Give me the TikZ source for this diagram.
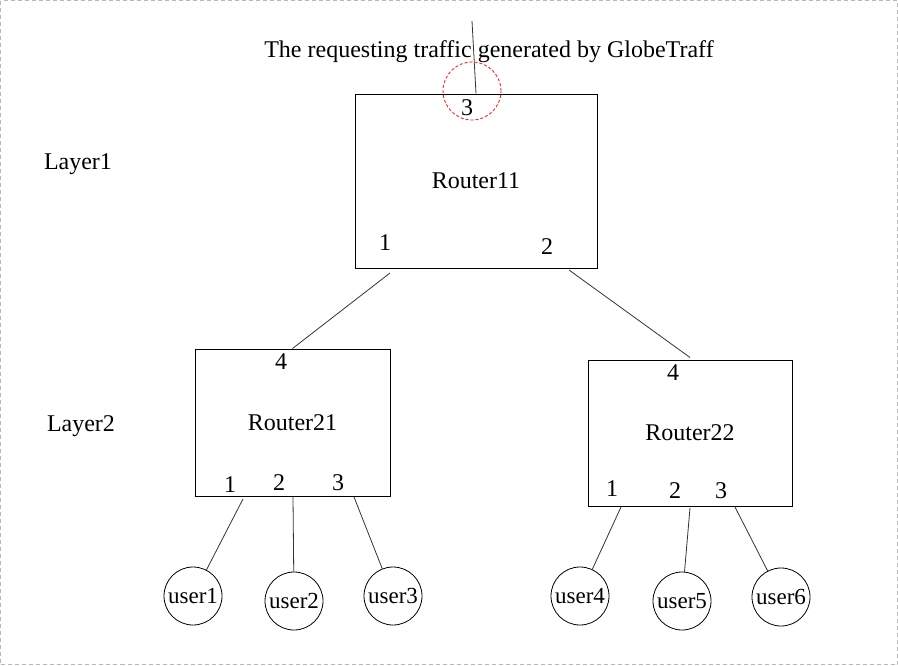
\documentclass[tikz,border=0pt]{standalone}
\usepackage{fontspec}
\setmainfont{Liberation Serif}

\begin{document}
\begin{tikzpicture}[x=1pt,y=-1pt,font=\fontsize{24}{28}\selectfont,
  router/.style={draw,line width=1pt,inner sep=0pt},
  user/.style={draw,circle,line width=0.8pt,minimum size=58pt,inner sep=0pt,font=\fontsize{23}{26}\selectfont},
  link/.style={line width=0.8pt,black!80},
  portmark/.style={draw=red!85,dashed,dash pattern=on 3pt off 2pt,circle,line width=0.9pt,minimum size=58pt,inner sep=0pt}]

  % Page frame
  \useasboundingbox (0,0) rectangle (898,665);
  \draw[gray!55,line width=1pt,dash pattern=on 4pt off 3pt] (0.5,0.5) rectangle (897.5,664.5);

  % Layers and the incoming traffic
  \node (lay1) at (78,164) {Layer1};
  \node (lay2) at (81,426) {Layer2};
  \node (traffic) at (489,52) {The requesting traffic generated by GlobeTraff};

  % Routers
  \node[router,minimum width=242pt,minimum height=174pt] (r11) at (476,181) {\raisebox{-1pt}{Router11}};
  \node[router,minimum width=195pt,minimum height=147pt] (r21) at (292.5,422.5) {\raisebox{-3pt}{Router21}};
  \node[router,minimum width=204pt,minimum height=146pt] (r22) at (690,433) {\raisebox{-4pt}{Router22}};

  % Port numbers
  \node (r11p3) at (467,108) {3};
  \node (r11p1) at (385,243) {1};
  \node (r11p2) at (547,247) {2};
  \node (r21p4) at (281,362) {4};
  \node (r21p1) at (230,485) {1};
  \node (r21p2) at (279,483) {2};
  \node (r21p3) at (338,483) {3};
  \node (r22p4) at (673,373) {4};
  \node (r22p1) at (612,489) {1};
  \node (r22p2) at (675,491) {2};
  \node (r22p3) at (721,491) {3};

  % Users
  \foreach \n/\x/\y in {1/193/596, 2/294/601, 3/393/596, 4/580/596, 5/682/601, 6/781/597}
    \node[user] (u\n) at (\x,\y) {user\n};

  % Links
  \coordinate (in) at (472,21);
  \draw[link] (in) -- (r11.north);
  \node[portmark] (mark) at (472,91) {};

  \coordinate (o11a) at (390,273);
  \coordinate (o11b) at (569,270);
  \draw[link] (o11a) -- (r21.north);
  \draw[link] (o11b) -- ([yshift=2pt]r22.north);

  \coordinate (o21a) at (243,499);
  \coordinate (o21b) at (293,497);
  \coordinate (o21c) at (354,497);
  \coordinate (o22a) at (621,507);
  \coordinate (o22b) at (690,508);
  \coordinate (o22c) at (735,507);
  \draw[link] (o21a) -- (u1);
  \draw[link] (o21b) -- (u2);
  \draw[link] (o21c) -- (u3);
  \draw[link] (o22a) -- (u4);
  \draw[link] (o22b) -- (u5);
  \draw[link] (o22c) -- (u6);
\end{tikzpicture}
\end{document}
